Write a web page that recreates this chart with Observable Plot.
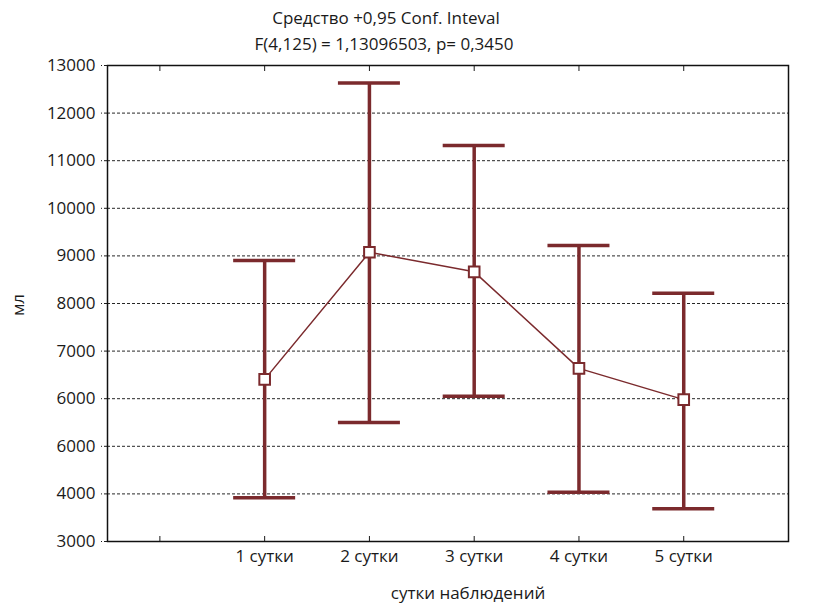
<!DOCTYPE html>
<html><head><meta charset="utf-8">
<script src="https://cdn.jsdelivr.net/npm/d3@7"></script>
<script src="https://cdn.jsdelivr.net/npm/@observablehq/plot@0.6"></script>
<style>
body{margin:0;background:#fff;}
#wrap{position:relative;width:829px;height:605px;font-family:"Open Sans",sans-serif;color:#1a1a1a;}
.t{position:absolute;white-space:nowrap;font-size:17px;transform:translate(-50%,-50%);}
</style></head><body>
<div id="wrap">
  <div class="t" style="left:386px;top:17px;">Средство +0,95 Conf. Inteval</div>
  <div class="t" style="left:384px;top:43px;">F(4,125) = 1,13096503, p= 0,3450</div>
  <div class="t" style="left:468px;top:592px;">сутки наблюдений</div>
  <div class="t" style="left:17px;top:305px;transform:translate(-50%,-50%) rotate(-90deg);">мл</div>
</div>
<script>
const categories = ["1 сутки", "2 сутки", "3 сутки", "4 сутки", "5 сутки"];
const means = [6406, 9076, 8665, 6637, 5980];
const upper = [8902, 12630, 11320, 9216, 8216];
const lower = [3917, 5498, 6050, 4036, 3686];
const yTicks = [3000, 4000, 5000, 6000, 7000, 8000, 9000, 10000, 11000, 12000, 13000];
const yTickLabels = ["3000", "4000", "6000", "6000", "7000", "8000", "9000", "10000", "11000", "12000", "13000"];
const xTicks = [0, 1, 2, 3, 4, 5, 6];
const gridValues = [4000, 5000, 6000, 7000, 8000, 9000, 10000, 11000, 12000];

const color = "#7b2a2d";
const data = categories.map((c, i) => ({pos: i + 1, cat: c, mean: means[i], lo: lower[i], hi: upper[i]}));

const chart = Plot.plot({
  width: 829,
  height: 605,
  marginLeft: 107,
  marginRight: 41,
  marginTop: 65,
  marginBottom: 64,
  style: {fontFamily: "Open Sans", fontSize: "17px", color: "#1a1a1a", background: "transparent"},
  x: {domain: [-0.5, 6]},
  y: {domain: [3000, 13000]},
  marks: [
    Plot.ruleY(gridValues, {stroke: "#000", strokeWidth: 1, strokeDasharray: "3,2", strokeOpacity: 0.85}),
    Plot.axisY({ticks: yTicks, tickSize: 6, tickPadding: 6, tickFormat: d => yTickLabels[yTicks.indexOf(d)], strokeDasharray: "3,2", label: null}),
    Plot.axisX({ticks: xTicks, tickSize: 0, tickPadding: 8, tickFormat: d => categories[d - 1] ?? "", label: null}),
    Plot.axisX({ticks: xTicks, tickSize: 5, dy: -5, tickFormat: () => "", label: null}),
    Plot.axisX({anchor: "top", ticks: xTicks, tickSize: 5, dy: 5, tickFormat: () => "", label: null}),
    Plot.frame({stroke: "#111", strokeWidth: 1.5}),
    Plot.line(data, {x: "pos", y: "mean", stroke: color, strokeWidth: 1.5}),
    Plot.ruleX(data, {x: "pos", y1: "lo", y2: "hi", stroke: color, strokeWidth: 3.5}),
    Plot.ruleY(data, {x1: "pos", x2: "pos", y: "hi", insetLeft: -31, insetRight: -31, stroke: color, strokeWidth: 3.5}),
    Plot.ruleY(data, {x1: "pos", x2: "pos", y: "lo", insetLeft: -31, insetRight: -31, stroke: color, strokeWidth: 3.5}),
    Plot.dot(data, {x: "pos", y: "mean", symbol: "square", r: 6, fill: "white", stroke: color, strokeWidth: 2})
  ]
});
chart.style.position = "absolute";
chart.style.left = "0px";
chart.style.top = "0px";
document.getElementById("wrap").prepend(chart);
</script>
</body></html>
